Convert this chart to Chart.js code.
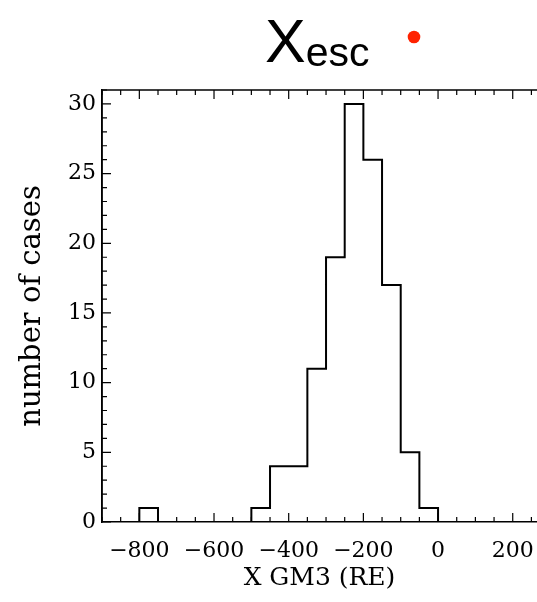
<!DOCTYPE html>
<html>
<head>
<meta charset="utf-8">
<script src="https://cdn.jsdelivr.net/npm/chart.js@4.4.0/dist/chart.umd.min.js"></script>
<style>
  html, body { margin: 0; padding: 0; background: #fff; }
  #caja { width: 537px; height: 602px; }
</style>
</head>
<body>
<div id="caja"><canvas id="chartHist" width="537" height="602"></canvas></div>
<script>
// borde izquierdo de cada bin (ancho 50 RE)
const binInicio = [-900, -850, -800, -750, -700, -650, -600, -550, -500, -450, -400, -350,
                   -300, -250, -200, -150, -100, -50, 0, 50, 100, 150, 200, 250];
const casos = [0, 0, 1, 0, 0, 0, 0, 0, 1, 4, 4, 11,
               19, 30, 26, 17, 5, 1, 0, 0, 0, 0, 0, 0];
const ticksX = [-800, -600, -400, -200, 0, 200];
const ticksY = [0, 5, 10, 15, 20, 25, 30];

const fuenteSerif = '"DejaVu Serif", serif';

// marcas hacia adentro + borde superior + titulo Xesc
const marcasInternas = {
    id: 'marcasInternas',
    afterDraw(chart) {
        const { ctx, chartArea, scales } = chart;
        const { left, right, top, bottom } = chartArea;
        ctx.save();
        ctx.strokeStyle = '#000';
        ctx.lineWidth = 1.5;

        ctx.beginPath();
        ctx.moveTo(left, bottom);
        ctx.lineTo(left, top);
        ctx.lineTo(right, top);
        ctx.stroke();

        ctx.lineWidth = 1.2;
        ctx.beginPath();
        for (let v = -900; v <= 300; v += 50) {
            const px = scales.x.getPixelForValue(v);
            if (px < left || px > right) continue;
            const largo = ticksX.includes(v) ? 9 : 5;
            ctx.moveTo(px, bottom);
            ctx.lineTo(px, bottom - largo);
            ctx.moveTo(px, top);
            ctx.lineTo(px, top + largo);
        }
        for (let v = 0; v <= 31; v++) {
            const py = scales.y.getPixelForValue(v);
            const largo = ticksY.includes(v) ? 9 : 5;
            ctx.moveTo(left, py);
            ctx.lineTo(left + largo, py);
        }
        ctx.stroke();

        // titulo
        ctx.fillStyle = '#000';
        ctx.textBaseline = 'alphabetic';
        ctx.textAlign = 'left';
        ctx.font = '61px "Liberation Sans", Arial, sans-serif';
        ctx.fillText('X', 265, 62);
        const anchoX = ctx.measureText('X').width;
        ctx.font = '41px "Liberation Sans", Arial, sans-serif';
        ctx.fillText('esc', 265 + anchoX, 66);

        ctx.fillStyle = '#ff2200';
        ctx.beginPath();
        ctx.arc(414, 37, 6.3, 0, Math.PI * 2);
        ctx.fill();
        ctx.restore();
    }
};

const canvas = document.getElementById('chartHist');
const context = canvas.getContext('2d');

const chartHist = new Chart(context, {
    type: 'line',
    data: {
        datasets: [
            {
                label: 'casos',
                data: binInicio.map((x, i) => ({ x: x, y: casos[i] })),
                stepped: true,
                borderColor: '#000',
                borderWidth: 2,
                pointRadius: 0,
                fill: false
            }
        ]
    },
    options: {
        responsive: false,
        animation: false,
        layout: {
            padding: { top: 90, right: 0, left: 0, bottom: 0 }
        },
        plugins: {
            legend: { display: false },
            tooltip: { enabled: false }
        },
        scales: {
            x: {
                type: 'linear',
                min: -900,
                max: 265,
                afterFit: (scale) => {
                    scale.height = 80;
                    scale.paddingLeft = 0;
                    scale.paddingRight = 0;
                },
                afterBuildTicks: (scale) => {
                    scale.ticks = ticksX.map(v => ({ value: v }));
                },
                grid: { display: false, drawTicks: false },
                border: { display: true, color: '#000', width: 1.5 },
                ticks: {
                    color: '#000',
                    font: { family: fuenteSerif, size: 22 },
                    padding: 16,
                    maxRotation: 0,
                    autoSkip: false,
                    callback: (v) => String(v).replace('-', '\u2212')
                },
                title: {
                    display: true,
                    text: 'X GM3 (RE)',
                    color: '#000',
                    font: { family: fuenteSerif, size: 25 },
                    padding: { top: 0, bottom: 9 }
                }
            },
            y: {
                min: 0,
                max: 31,
                afterFit: (scale) => {
                    scale.width = 102;
                    scale.paddingTop = 0;
                    scale.paddingBottom = 0;
                },
                afterBuildTicks: (scale) => {
                    scale.ticks = ticksY.map(v => ({ value: v }));
                },
                grid: { display: false, drawTicks: false },
                border: { display: true, color: '#000', width: 1.5 },
                ticks: {
                    color: '#000',
                    font: { family: fuenteSerif, size: 22 },
                    padding: 6
                },
                title: {
                    display: true,
                    text: 'number of cases',
                    color: '#000',
                    font: { family: fuenteSerif, size: 29 },
                    padding: { top: 15, bottom: 0 }
                }
            }
        }
    },
    plugins: [marcasInternas]
});
</script>
</body>
</html>
